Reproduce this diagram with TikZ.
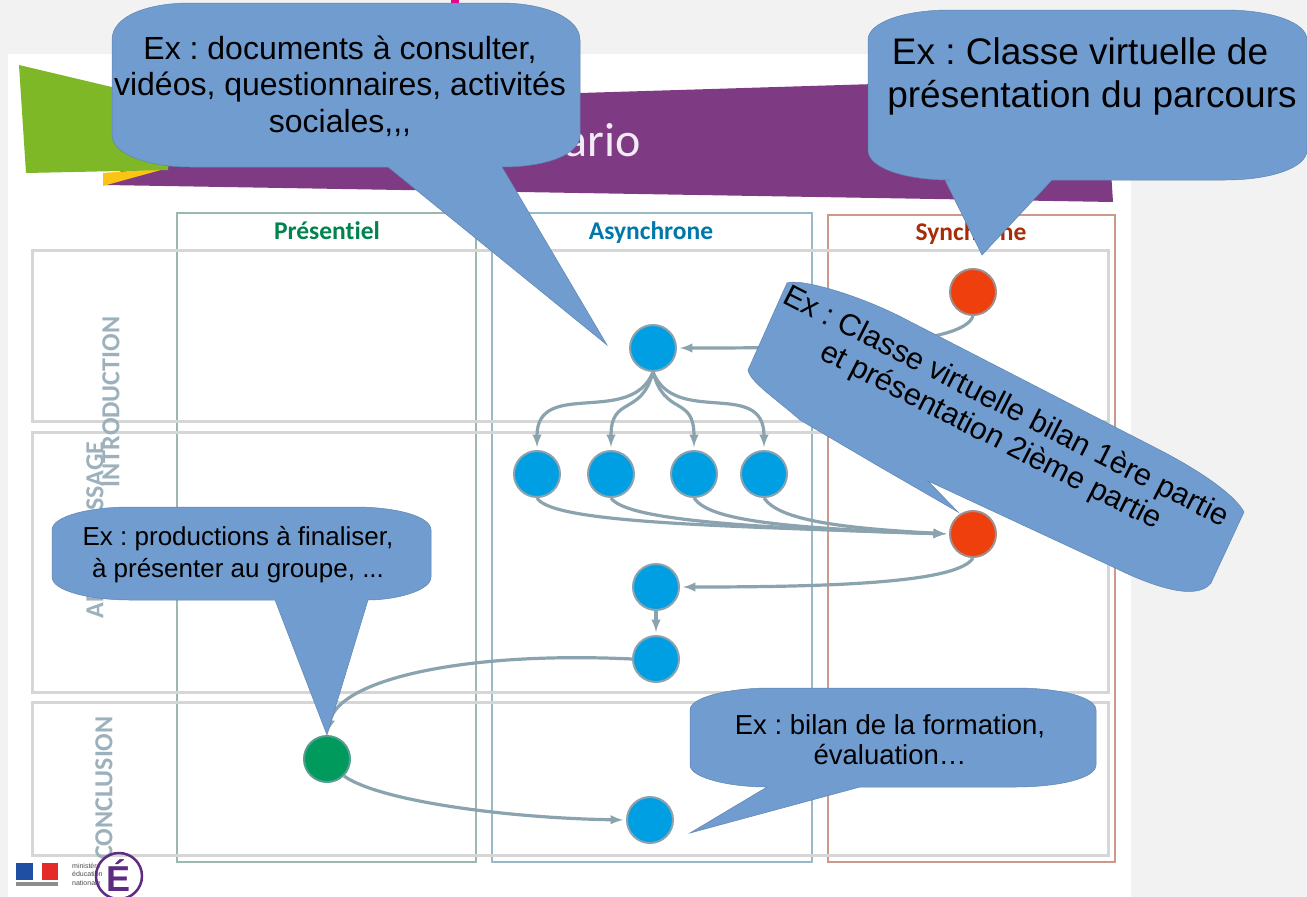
\documentclass[tikz,border=0pt]{standalone}
\usepackage{fontspec}
\setmainfont{Liberation Sans}
\newfontfamily\slidefont[Ligatures=NoCommon]{Carlito}
\usetikzlibrary{positioning}

\definecolor{pagegrey}{HTML}{F2F2F2}
\definecolor{bubbleblue}{HTML}{709CCF}
\definecolor{linkgrey}{HTML}{8BA3AF}
\definecolor{dotblue}{HTML}{009FE3}
\definecolor{dotred}{HTML}{EE3F0C}
\definecolor{dotgreen}{HTML}{009A5C}
\definecolor{bannerpurple}{HTML}{7F3A84}
\definecolor{bannergreen}{HTML}{7FB827}
\definecolor{bannerorange}{HTML}{FBC313}
\definecolor{logopurple}{HTML}{5E2B82}
\definecolor{flagblue}{HTML}{1F4FA3}
\definecolor{flagred}{HTML}{E52A2A}

\tikzset{
  dot/.style={circle,minimum size=46pt,inner sep=0pt,line width=2pt},
  bluedot/.style={dot,fill=dotblue,draw=linkgrey},
  reddot/.style={dot,fill=dotred,draw=linkgrey!80!dotred},
  greendot/.style={dot,fill=dotgreen,draw=linkgrey!60!dotgreen},
  link/.style={->,draw=linkgrey,line width=3.2pt,shorten >=3pt},
  bubble/.style={fill=bubbleblue,draw=bubbleblue!85!black,line width=0.5pt},
  rowbox/.style={draw=black!16,line width=3pt},
  colhead/.style={anchor=base,font=\slidefont\bfseries\fontsize{25.5}{30}\selectfont},
  rowlabel/.style={rotate=90,text=linkgrey!85!white,font=\slidefont\bfseries\fontsize{26}{30}\selectfont},
}

\begin{document}
\frenchspacing
\begin{tikzpicture}[x=1pt,y=-1pt,>=latex]
\useasboundingbox (0,0) rectangle (1307,897);

% Page and slide
\fill[pagegrey] (0,0) rectangle (1307,897);
\fill[white] (8,54) rectangle (1131,897);
\fill[magenta] (451,0) rectangle (459,3);

% Banner
\fill[bannerpurple] (105,185) -- (180,120) -- (580,93) -- (1105,77) -- (1113,202) -- cycle;
\fill[bannerorange] (103,173) -- (168,168) -- (103,186) -- cycle;
\fill[bannergreen] (19,65) -- (175,102) -- (168,170) -- (26,173) -- cycle;
\node[anchor=base east,text=white!90!bannerpurple,font=\slidefont\fontsize{48}{54}\selectfont] (title) at (644,156) {ario};

% Columns
\draw[draw=dotgreen!30!gray!60,line width=2pt] (177,213) rectangle (476,862);
\draw[draw=dotblue!35!gray!60,line width=2pt] (492,213) rectangle (812,862);
\draw[draw=dotred!45!gray!65,line width=2pt] (828,215) rectangle (1115,862);
\node[colhead,text=dotgreen!85!black] (headpres) at (327,239) {Présentiel};
\node[colhead,text=dotblue!75!black] (headasyn) at (651,239) {Asynchrone};
\node[colhead,text=dotred!70!black] (headsync) at (971,240) {Synchrone};

% Rows
\draw[rowbox] (32,250) rectangle (1108,421);
\draw[rowbox] (32,432) rectangle (1108,692);
\draw[rowbox] (32,702) rectangle (1108,855);
\node[rowlabel] (rowintro) at (111,402) {INTRODUCTION};
\node[rowlabel] (rowappr) at (95,530) {APPRENTISSAGE};
\node[rowlabel] (rowconc) at (104,788) {CONCLUSION};

% Activities
\node[reddot] (syncone) at (973,292) {};
\node[bluedot] (asynctop) at (653,348) {};
\node[bluedot] (asyncone) at (537,474) {};
\node[bluedot] (asynctwo) at (611,474) {};
\node[bluedot] (asyncthree) at (694,474) {};
\node[bluedot] (asyncfour) at (764,474) {};
\node[reddot] (synctwo) at (973,534) {};
\node[bluedot] (asyncfive) at (656,587) {};
\node[bluedot] (asyncsix) at (656,659) {};
\node[greendot] (pres) at (327,759) {};
\node[bluedot] (asynclast) at (650,820) {};

% Links
\draw[link] (syncone.south) .. controls +(-10,30) and +(150,0) .. (asynctop.east);
\draw[link] (asynctop.south) .. controls +(-22,55) and +(0,-72) .. (asyncone.north);
\draw[link] (asynctop.south) .. controls +(-12,45) and +(0,-55) .. (asynctwo.north);
\draw[link] (asynctop.south) .. controls +(12,45) and +(0,-55) .. (asyncthree.north);
\draw[link] (asynctop.south) .. controls +(22,55) and +(0,-72) .. (asyncfour.north);
\draw[link] (asyncone.south) .. controls +(15,25) and +(-230,-8) .. (synctwo.west);
\draw[link] (asynctwo.south) .. controls +(15,22) and +(-200,-6) .. (synctwo.west);
\draw[link] (asyncthree.south) .. controls +(15,22) and +(-170,-6) .. (synctwo.west);
\draw[link] (asyncfour.south) .. controls +(15,22) and +(-110,-6) .. (synctwo.west);
\draw[link] (synctwo.south) .. controls +(-15,25) and +(150,0) .. (asyncfive.east);
\draw[link] (asyncfive.south) -- (asyncsix.north);
\draw[link] (asyncsix.west) .. controls +(-170,-8) and +(12,-55) .. (pres.north);
\draw[link] (pres.south east) .. controls +(35,25) and +(-120,-2) .. (asynclast.west);

% Logos
\fill[flagblue] (16,863) rectangle (33,880);
\fill[flagred] (42,863) rectangle (58,880);
\fill[black!45] (16,882) rectangle (58,886);
\node[anchor=west,align=left,text=black!70,inner sep=0pt,font=\fontsize{7}{8.5}\selectfont] (ministere) at (72,874) {ministère\\éducation\\nationale};
\node[circle,draw=logopurple,line width=2.5pt,minimum size=46pt,inner sep=0pt,text=logopurple,font=\bfseries\fontsize{36}{36}\selectfont] (logoe) at (119,876) {É};

% Bubbles
\draw[bubble] (112,40) .. controls (112,15) and (150,3) .. (190,3) -- (500,3) .. controls (545,3) and (580,18) .. (580,40)
  -- (580,135) .. controls (580,155) and (545,167) .. (502,167) -- (607,345) -- (388,167) -- (190,167)
  .. controls (150,167) and (112,155) .. (112,135) -- cycle;
\node[align=center,inner sep=0pt,font=\fontsize{32}{36.5}\selectfont] (bubbledocs) at (340,86) {Ex : documents à consulter,\\vidéos, questionnaires, activités\\sociales,{},{},};

\draw[bubble] (868,40) .. controls (868,22) and (905,10) .. (950,10) -- (1225,10) .. controls (1270,10) and (1307,22) .. (1307,40)
  -- (1307,150) .. controls (1307,168) and (1270,180) .. (1225,180) -- (1052,180) -- (982,255) -- (945,180) -- (950,180)
  .. controls (905,180) and (868,168) .. (868,150) -- cycle;
\node[align=center,inner sep=0pt,font=\fontsize{37}{43}\selectfont] (bubbleclass) at (1092,76) {Ex : Classe virtuelle de\hspace*{24pt}\\présentation du parcours};

\draw[bubble] (787,283) .. controls (800,278) and (860,295) .. (907,320) -- (1150,445) .. controls (1200,470) and (1235,495) .. (1244,512)
  -- (1211,583) .. controls (1200,597) and (1170,595) .. (1113,567) -- (928,481) -- (958,512) -- (880,467) -- (800,420)
  .. controls (775,398) and (750,382) .. (748,370) -- cycle;
\node[rotate=-27,align=center,inner sep=0pt,font=\fontsize{30.5}{33}\selectfont] (bubblebilan) at (998,422) {Ex : Classe virtuelle bilan 1ère partie\\et présentation 2ième partie};

\draw[bubble] (52,530) .. controls (52,516) and (90,507) .. (130,507) -- (355,507) .. controls (395,507) and (431,516) .. (431,530)
  -- (431,577) .. controls (431,591) and (395,600) .. (368,600) -- (327,735) -- (275,600) -- (130,600)
  .. controls (90,600) and (52,591) .. (52,577) -- cycle;
\node[align=center,inner sep=0pt,font=\fontsize{26}{32}\selectfont] (bubbleprod) at (238,555) {Ex : productions à finaliser,\\à présenter au groupe, ...};

\draw[bubble] (690,710) .. controls (690,697) and (730,688) .. (770,688) -- (1015,688) .. controls (1060,688) and (1096,697) .. (1096,710)
  -- (1096,765) .. controls (1096,778) and (1060,787) .. (1015,787) -- (860,787) -- (690,833) -- (767,787)
  .. controls (730,787) and (690,778) .. (690,765) -- cycle;
\node[align=center,inner sep=0pt,font=\fontsize{27.5}{30}\selectfont] (bubbleend) at (890,740) {Ex : bilan de la formation,\\évaluation…};
\end{tikzpicture}
\end{document}
